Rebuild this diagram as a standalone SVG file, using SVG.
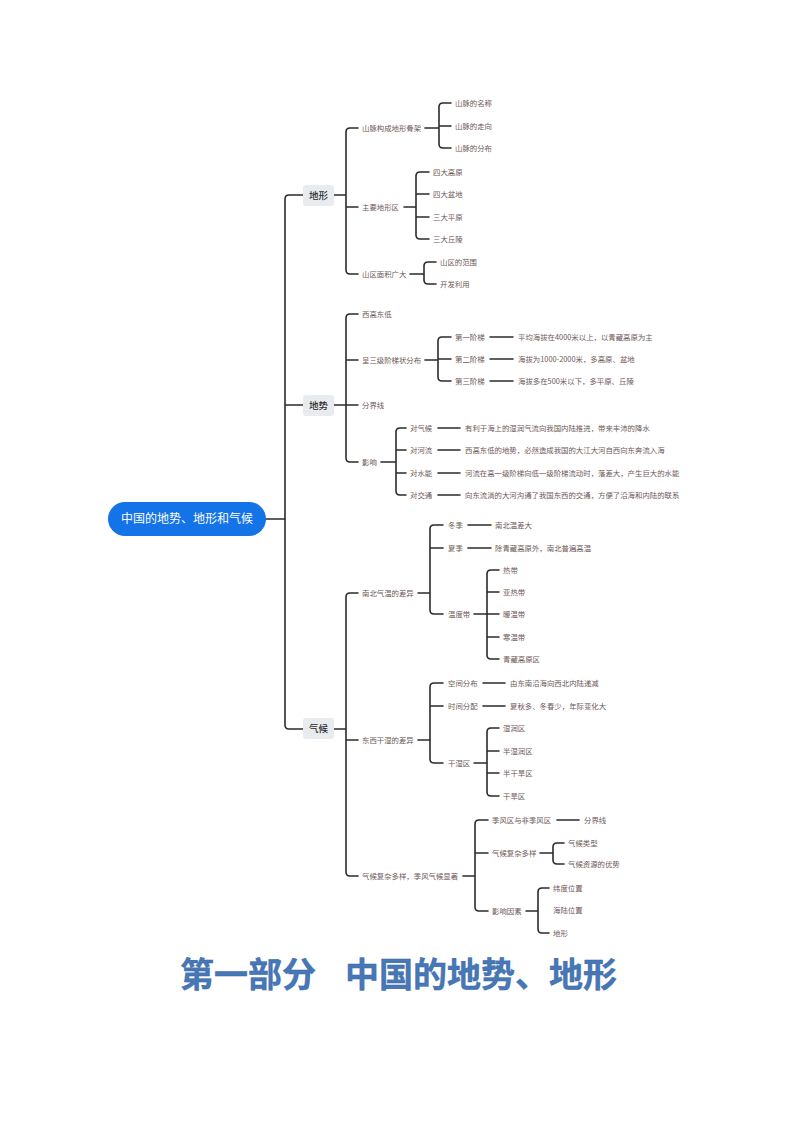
<svg xmlns="http://www.w3.org/2000/svg" width="794" height="1123" viewBox="0 0 794 1123">
<style>
.c{fill:none;stroke:#2b2b2b;stroke-width:1.6;stroke-linecap:round;stroke-linejoin:round}
.t{font-family:"Noto Sans CJK SC","Noto Sans",sans-serif;font-size:7.4px;fill:#6e5858}
.l1{font-family:"Noto Sans CJK SC","Noto Sans",sans-serif;font-size:9.5px;fill:#2d2d2d;font-weight:500;text-anchor:middle}
.b{fill:#e8ecef}
</style>
<rect width="794" height="1123" fill="#ffffff"/>
<g id="connectors">
<path class="c" d="M303,195 H289 Q285,195 285,199 V725 Q285,729 289,729 H303 M285,405 H303 M266,519 H285"/>
<path class="c" d="M358,128 H350 Q346,128 346,132 V270 Q346,274 350,274 H358 M346,207 H358 M334,195 H346"/>
<path class="c" d="M451,103 H443 Q439,103 439,107 V144 Q439,148 443,148 H451 M439,126 H451 M425,128 H439"/>
<path class="c" d="M429,172 H420 Q416,172 416,176 V235 Q416,239 420,239 H429 M416,194 H429 M416,217 H429 M404,207 H416"/>
<path class="c" d="M436,262 H428 Q424,262 424,266 V280 Q424,284 428,284 H436 M410,274 H424"/>
<path class="c" d="M358,314 H350 Q346,314 346,318 V458 Q346,462 350,462 H358 M346,360 H358 M346,405 H358 M334,405 H346"/>
<path class="c" d="M451,337 H442 Q438,337 438,341 V377 Q438,381 442,381 H451 M438,359 H451 M425,360 H438"/>
<path class="c" d="M490,337 H513 M490,359 H513 M490,381 H513"/>
<path class="c" d="M406,428 H400 Q396,428 396,432 V491 Q396,495 400,495 H406 M396,450 H406 M396,473 H406 M381,462 H396"/>
<path class="c" d="M438,428 H460 M438,450 H460 M438,473 H460 M438,495 H460"/>
<path class="c" d="M358,593 H350 Q346,593 346,597 V872 Q346,876 350,876 H358 M346,740 H358 M334,729 H346"/>
<path class="c" d="M443,525 H434 Q430,525 430,529 V610 Q430,614 434,614 H443 M430,548 H443 M418,593 H430"/>
<path class="c" d="M468,525 H491 M468,548 H491"/>
<path class="c" d="M499,570 H491 Q487,570 487,574 V655 Q487,659 491,659 H499 M487,592 H499 M487,614 H499 M487,637 H499 M474,614 H487"/>
<path class="c" d="M443,683 H434 Q430,683 430,687 V759 Q430,763 434,763 H443 M430,706 H443 M418,740 H430"/>
<path class="c" d="M483,683 H505 M483,706 H505"/>
<path class="c" d="M499,728 H491 Q487,728 487,732 V792 Q487,796 491,796 H499 M487,751 H499 M487,773 H499 M474,763 H487"/>
<path class="c" d="M488,820 H479 Q475,820 475,824 V907 Q475,911 479,911 H488 M475,853 H488 M463,876 H475"/>
<path class="c" d="M557,820 H579"/>
<path class="c" d="M564,843 H557 Q553,843 553,847 V860 Q553,864 557,864 H564 M540,853 H553"/>
<path class="c" d="M549,888 H542 Q538,888 538,892 V929 Q538,933 542,933 H549 M526,911 H538"/>
</g>
<g id="root">
<rect x="108" y="502" width="158" height="34" rx="17" fill="#1473e6"/>
<text x="187" y="523.3" font-family="Noto Sans CJK SC, Noto Sans, sans-serif" font-size="12" fill="#ffffff" text-anchor="middle">中国的地势、地形和气候</text>
</g>
<g id="n-dixing"><rect class="b" x="303" y="185" width="31" height="21" rx="3"/><text class="l1" x="318.5" y="198.5">地形</text></g>
<g id="n-dishi"><rect class="b" x="303" y="395" width="31" height="21" rx="3"/><text class="l1" x="318.5" y="408.5">地势</text></g>
<g id="n-qihou"><rect class="b" x="303" y="718" width="31" height="21" rx="3"/><text class="l1" x="318.5" y="731.5">气候</text></g>
<g id="labels">
<g id="g-dixing">
<text class="t" x="362" y="130.6">山脉构成地形骨架</text>
<text class="t" x="455" y="105.6">山脉的名称</text>
<text class="t" x="455" y="128.6">山脉的走向</text>
<text class="t" x="455" y="150.6">山脉的分布</text>
<text class="t" x="362" y="209.6">主要地形区</text>
<text class="t" x="433" y="174.6">四大高原</text>
<text class="t" x="433" y="196.6">四大盆地</text>
<text class="t" x="433" y="219.6">三大平原</text>
<text class="t" x="433" y="241.6">三大丘陵</text>
<text class="t" x="362" y="276.6">山区面积广大</text>
<text class="t" x="440" y="264.6">山区的范围</text>
<text class="t" x="440" y="286.6">开发利用</text>
</g>
<g id="g-dishi">
<text class="t" x="362" y="316.6">西高东低</text>
<text class="t" x="362" y="362.6">呈三级阶梯状分布</text>
<text class="t" x="455" y="339.6">第一阶梯</text>
<text class="t" x="455" y="361.6">第二阶梯</text>
<text class="t" x="455" y="383.6">第三阶梯</text>
<text class="t" x="518" y="339.6">平均海拔在4000米以上，以青藏高原为主</text>
<text class="t" x="518" y="361.6">海拔为1000-2000米，多高原、盆地</text>
<text class="t" x="518" y="383.6">海拔多在500米以下，多平原、丘陵</text>
<text class="t" x="362" y="407.6">分界线</text>
<text class="t" x="362" y="464.6">影响</text>
<text class="t" x="410" y="430.6">对气候</text>
<text class="t" x="410" y="452.6">对河流</text>
<text class="t" x="410" y="475.6">对水能</text>
<text class="t" x="410" y="497.6">对交通</text>
<text class="t" x="465" y="430.6">有利于海上的湿润气流向我国内陆推进，带来丰沛的降水</text>
<text class="t" x="465" y="452.6">西高东低的地势，必然造成我国的大江大河自西向东奔流入海</text>
<text class="t" x="465" y="475.6">河流在高一级阶梯向低一级阶梯流动时，落差大，产生巨大的水能</text>
<text class="t" x="465" y="497.6">向东流淌的大河沟通了我国东西的交通，方便了沿海和内陆的联系</text>
</g>
<g id="g-qihou">
<text class="t" x="362" y="595.6">南北气温的差异</text>
<text class="t" x="448" y="527.6">冬季</text>
<text class="t" x="448" y="550.6">夏季</text>
<text class="t" x="495" y="527.6">南北温差大</text>
<text class="t" x="495" y="550.6">除青藏高原外，南北普遍高温</text>
<text class="t" x="448" y="616.6">温度带</text>
<text class="t" x="503" y="572.6">热带</text>
<text class="t" x="503" y="594.6">亚热带</text>
<text class="t" x="503" y="616.6">暖温带</text>
<text class="t" x="503" y="639.6">寒温带</text>
<text class="t" x="503" y="661.6">青藏高原区</text>
<text class="t" x="362" y="742.6">东西干湿的差异</text>
<text class="t" x="448" y="685.6">空间分布</text>
<text class="t" x="448" y="708.6">时间分配</text>
<text class="t" x="510" y="685.6">由东南沿海向西北内陆递减</text>
<text class="t" x="510" y="708.6">夏秋多、冬春少，年际变化大</text>
<text class="t" x="448" y="765.6">干湿区</text>
<text class="t" x="503" y="730.6">湿润区</text>
<text class="t" x="503" y="753.6">半湿润区</text>
<text class="t" x="503" y="775.6">半干旱区</text>
<text class="t" x="503" y="798.6">干旱区</text>
<text class="t" x="362" y="878.6">气候复杂多样，季风气候显著</text>
<text class="t" x="492" y="822.6">季风区与非季风区</text>
<text class="t" x="584" y="822.6">分界线</text>
<text class="t" x="492" y="855.6">气候复杂多样</text>
<text class="t" x="568" y="845.6">气候类型</text>
<text class="t" x="568" y="866.6">气候资源的优势</text>
<text class="t" x="492" y="913.6">影响因素</text>
<text class="t" x="553" y="890.6">纬度位置</text>
<text class="t" x="553" y="912.6">海陆位置</text>
<text class="t" x="553" y="935.6">地形</text>
</g>
</g>
<g id="title">
<text x="180" y="987" font-family="Noto Sans CJK SC, Noto Sans, sans-serif" font-size="34" font-weight="bold" fill="#4677b6" stroke="#3a66a0" stroke-width="0.4">第一部分</text>
<text x="345" y="987" font-family="Noto Sans CJK SC, Noto Sans, sans-serif" font-size="34" font-weight="bold" fill="#4677b6" stroke="#3a66a0" stroke-width="0.4">中国的地势、地形</text>
</g>
</svg>
